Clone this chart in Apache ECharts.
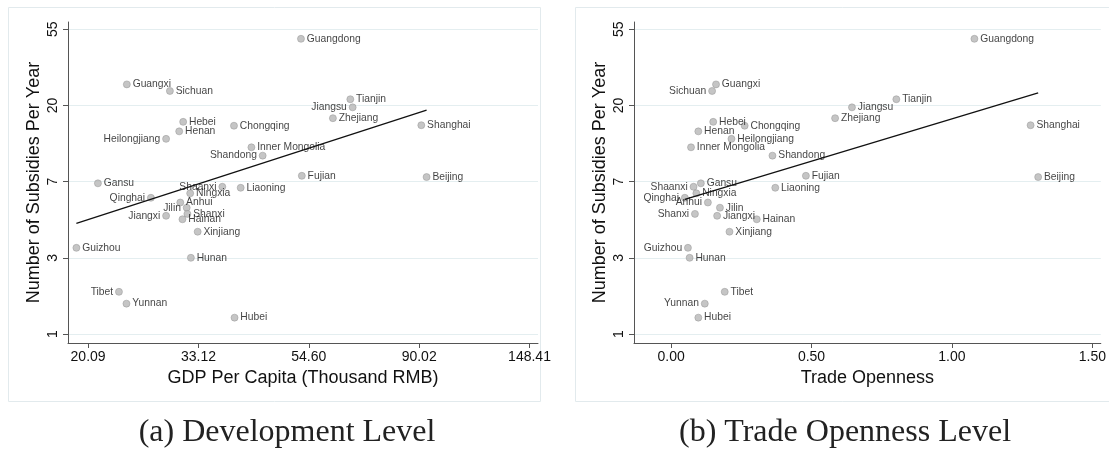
<!DOCTYPE html>
<html>
<head>
<meta charset="utf-8">
<script src="https://cdn.jsdelivr.net/npm/echarts@6/dist/echarts.min.js"></script>
<style>
  html, body { margin: 0; padding: 0; background: #ffffff; }
  #chart { width: 1109px; height: 451px; }
</style>
</head>
<body>
<div id="chart"></div>
<script>
// Provincial subsidies vs. development level and trade openness
const provinces = ['Guangdong', 'Guangxi', 'Sichuan', 'Tianjin', 'Jiangsu', 'Zhejiang', 'Shanghai',
  'Chongqing', 'Hebei', 'Henan', 'Heilongjiang', 'Inner Mongolia', 'Shandong', 'Fujian', 'Beijing',
  'Gansu', 'Shaanxi', 'Liaoning', 'Ningxia', 'Qinghai', 'Anhui', 'Jilin', 'Shanxi', 'Jiangxi',
  'Hainan', 'Xinjiang', 'Guizhou', 'Hunan', 'Tibet', 'Yunnan', 'Hubei'];

// Number of subsidies per year
const subsidies = [48.2, 26.5, 24.3, 21.8, 19.6, 17.0, 15.5,
  15.4, 16.2, 14.3, 12.96, 11.6, 10.4, 7.98, 7.85,
  7.23, 6.91, 6.82, 6.34, 5.98, 5.62, 5.25, 4.84, 4.72,
  4.51, 3.83, 3.10, 2.72, 1.74, 1.49, 1.24];

// GDP per capita (thousand RMB)
const gdpPerCapita = [52.7, 23.94, 29.1, 65.9, 66.6, 60.9, 90.9,
  38.9, 30.9, 30.35, 28.6, 42.1, 44.3, 52.9, 93.1,
  21.0, 36.9, 40.1, 31.9, 26.7, 30.5, 31.4, 31.5, 28.6,
  30.8, 33.0, 19.05, 32.0, 23.1, 23.9, 39.0];

// Trade openness
const tradeOpenness = [1.080, 0.160, 0.146, 0.802, 0.644, 0.584, 1.280,
  0.262, 0.150, 0.097, 0.215, 0.071, 0.361, 0.480, 1.307,
  0.106, 0.080, 0.371, 0.090, 0.049, 0.131, 0.174, 0.085, 0.164,
  0.305, 0.208, 0.060, 0.066, 0.191, 0.120, 0.097];

// Fitted lines (end points, original units)
const fitGdpX = [19.05, 93.1];
const fitGdpY = [4.28, 18.9];
const fitTradeX = [0.049, 1.307];
const fitTradeY = [5.86, 23.7];

// Axis ticks: log-scale positions and their labels
const subsidyTickLogs = [0, 1, 2, 3, 4];
const subsidyTickLabels = ['1', '3', '7', '20', '55'];
const gdpTickLogs = [3, 3.5, 4, 4.5, 5];
const gdpTickLabels = ['20.09', '33.12', '54.60', '90.02', '148.41'];
const tradeTicks = [0, 0.5, 1, 1.5];
const tradeTickLabels = ['0.00', '0.50', '1.00', '1.50'];

// Provinces whose marker label sits on the left of the point
const leftLabelsA = ['Jiangsu', 'Heilongjiang', 'Shandong', 'Shaanxi', 'Qinghai', 'Jilin', 'Jiangxi', 'Tibet'];
const leftLabelsB = ['Sichuan', 'Shaanxi', 'Qinghai', 'Anhui', 'Shanxi', 'Guizhou', 'Yunnan'];

const ln = Math.log;
const ident = v => v;

function lookup(ticks, labels) {
  return v => {
    for (let i = 0; i < ticks.length; i++) {
      if (Math.abs(ticks[i] - v) < 1e-6) return labels[i];
    }
    return '';
  };
}

function points(xs, tx, leftSet) {
  return provinces.map((p, i) => ({
    name: p,
    value: [tx(xs[i]), ln(subsidies[i])],
    label: { position: leftSet.includes(p) ? 'left' : 'right' }
  }));
}

const AXIS_COLOR = '#555555';
const GRID_COLOR = '#e4eef0';
const TEXT_COLOR = '#111111';

function yAxisCfg(gridIndex) {
  return {
    gridIndex: gridIndex,
    type: 'value',
    min: -0.118,
    max: 4.096,
    name: 'Number of Subsidies Per Year',
    nameLocation: 'middle',
    nameGap: 25,
    nameTextStyle: { fontSize: 18, color: TEXT_COLOR },
    axisLine: { show: true, onZero: false, lineStyle: { color: AXIS_COLOR, width: 1 } },
    axisTick: { show: true, length: 5, customValues: subsidyTickLogs, lineStyle: { color: AXIS_COLOR } },
    axisLabel: {
      customValues: subsidyTickLogs, rotate: 90, margin: 8, fontSize: 14, color: TEXT_COLOR,
      formatter: lookup(subsidyTickLogs, subsidyTickLabels)
    },
    splitLine: { show: true, lineStyle: { color: GRID_COLOR, width: 1 } }
  };
}

function xAxisCfg(gridIndex, min, max, ticks, labels, name) {
  return {
    gridIndex: gridIndex,
    type: 'value',
    min: min,
    max: max,
    name: name,
    nameLocation: 'middle',
    nameGap: 25,
    nameTextStyle: { fontSize: 18, color: TEXT_COLOR },
    axisLine: { show: true, onZero: false, lineStyle: { color: AXIS_COLOR, width: 1 } },
    axisTick: { show: true, length: 5, customValues: ticks, lineStyle: { color: AXIS_COLOR } },
    axisLabel: {
      customValues: ticks, margin: 7, fontSize: 14, color: TEXT_COLOR,
      formatter: lookup(ticks, labels)
    },
    splitLine: { show: false }
  };
}

const scatterStyle = {
  type: 'scatter',
  symbol: 'circle',
  symbolSize: 7,
  itemStyle: { color: '#b7b7b7', borderColor: '#929292', borderWidth: 0.6 },
  label: { show: true, formatter: '{b}', fontSize: 10.3, color: TEXT_COLOR, distance: 2 },
  emphasis: { disabled: true },
  z: 3
};

const fitStyle = {
  type: 'line',
  showSymbol: false,
  symbol: 'none',
  lineStyle: { color: '#111111', width: 1.3 },
  emphasis: { disabled: true },
  z: 4
};

const option = {
  animation: false,
  backgroundColor: '#ffffff',
  textStyle: { fontFamily: '"Liberation Sans", Arial, Helvetica, sans-serif' },
  grid: [
    { left: 68, top: 22, width: 470, height: 321 },
    { left: 634, top: 22, width: 472, height: 321 }
  ],
  xAxis: [
    xAxisCfg(0, 2.909, 5.0385, gdpTickLogs, gdpTickLabels, 'GDP Per Capita (Thousand RMB)'),
    xAxisCfg(1, -0.132, 1.530, tradeTicks, tradeTickLabels, 'Trade Openness')
  ],
  yAxis: [yAxisCfg(0), yAxisCfg(1)],
  series: [
    Object.assign({}, scatterStyle, {
      xAxisIndex: 0, yAxisIndex: 0,
      data: points(gdpPerCapita, ln, leftLabelsA)
    }),
    Object.assign({}, fitStyle, {
      xAxisIndex: 0, yAxisIndex: 0,
      data: fitGdpX.map((x, i) => [ln(x), ln(fitGdpY[i])])
    }),
    Object.assign({}, scatterStyle, {
      xAxisIndex: 1, yAxisIndex: 1,
      data: points(tradeOpenness, ident, leftLabelsB)
    }),
    Object.assign({}, fitStyle, {
      xAxisIndex: 1, yAxisIndex: 1,
      data: fitTradeX.map((x, i) => [x, ln(fitTradeY[i])])
    })
  ],
  graphic: [
    { type: 'rect', silent: true, shape: { x: 8.5, y: 7.5, width: 532, height: 394 },
      style: { fill: 'none', stroke: '#e2eaed', lineWidth: 1 } },
    { type: 'rect', silent: true, shape: { x: 575.5, y: 7.5, width: 545, height: 394 },
      style: { fill: 'none', stroke: '#e2eaed', lineWidth: 1 } },
    { type: 'text', silent: true, x: 287, y: 433,
      style: { text: '(a) Development Level', fontSize: 32, fontFamily: '"Liberation Serif", serif',
               fill: '#222222', align: 'center', verticalAlign: 'middle' } },
    { type: 'text', silent: true, x: 845, y: 433,
      style: { text: '(b) Trade Openness Level', fontSize: 32, fontFamily: '"Liberation Serif", serif',
               fill: '#222222', align: 'center', verticalAlign: 'middle' } }
  ]
};

const chart = echarts.init(document.getElementById('chart'), null, { renderer: 'canvas' });
chart.setOption(option);
</script>
</body>
</html>
